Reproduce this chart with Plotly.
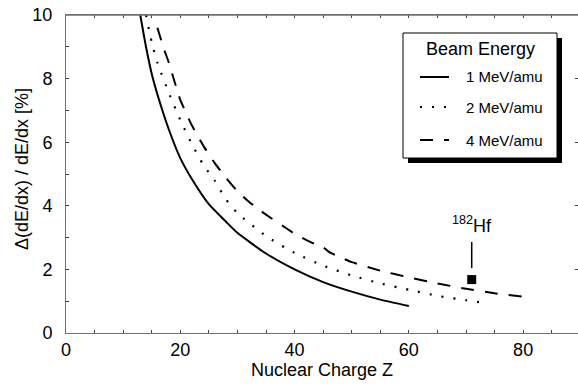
import plotly.graph_objects as go

# ---- data ----
z_1mev = [13, 14, 15, 16, 18, 20, 22, 25, 28, 30, 35, 40, 45, 50, 55, 60]
v_1mev = [10, 9.0, 8.15, 7.5, 6.4, 5.5, 4.85, 4.05, 3.5, 3.15, 2.5, 2.0, 1.6, 1.3, 1.05, 0.85]

z_2mev = [14, 15, 16, 18, 20, 22, 24, 26, 28, 30, 35, 40, 45, 50, 55, 60, 65, 70, 73]
v_2mev = [10, 9.15, 8.5, 7.55, 6.7, 5.95, 5.3, 4.8, 4.2, 3.77, 3.05, 2.52, 2.12, 1.81, 1.56, 1.36, 1.17, 1.03, 0.95]

z_4mev = [16, 17, 18, 19, 20, 22, 24, 26, 28, 30, 32, 34, 36, 38, 40, 42, 44, 45, 46, 48, 50,
          55, 60, 65, 70, 75, 80, 81.5]
v_4mev = [9.6, 9.0, 8.5, 7.9, 7.33, 6.54, 5.9, 5.35, 4.88, 4.46, 4.13, 3.85, 3.6, 3.36, 3.12, 2.93,
          2.76, 2.7, 2.55, 2.38, 2.23, 1.96, 1.75, 1.56, 1.39, 1.25, 1.14, 1.09]

hf_z = [71]
hf_v = [1.68]

series_names = ["1 MeV/amu", "2 MeV/amu", "4 MeV/amu"]
legend_title = "Beam Energy"

x_tickvals = list(range(0, 90, 5))
x_ticktext = [str(v) if v % 20 == 0 else " " for v in x_tickvals]

FONT = "Liberation Sans, Arial, sans-serif"
DOT = "2px,10px"
DASH = "13px,11px"
AXC = "#707070"
TKC = "#404040"

W, H = 578, 391
L, T, B = 66, 15, 58
PW = W - L
PH = H - T - B
X_RANGE = [0, 89.6]
Y_RANGE = [0, 10]


def px(xs):
    return (xs - L) / PW


def py(ys):
    return (H - B - ys) / PH


fig = go.Figure()
fig.add_trace(go.Scatter(x=z_1mev, y=v_1mev, mode="lines", name=series_names[0],
                         line=dict(color="black", width=2, shape="spline", smoothing=0.6)))
fig.add_trace(go.Scatter(x=z_2mev, y=v_2mev, mode="lines", name=series_names[1],
                         line=dict(color="black", width=2.2, dash=DOT, shape="spline", smoothing=0.6)))
fig.add_trace(go.Scatter(x=z_4mev, y=v_4mev, mode="lines", name=series_names[2],
                         line=dict(color="black", width=2, dash=DASH, shape="spline", smoothing=0.4)))
# Hf point on the secondary (identical-range) y axis so its right-side ticks get drawn
fig.add_trace(go.Scatter(x=hf_z, y=hf_v, mode="markers", name="182Hf", xaxis="x", yaxis="y2",
                         marker=dict(symbol="square", size=9, color="black"), showlegend=False))

# top frame line of the plot area
fig.add_shape(type="line", xref="paper", yref="paper", x0=0, x1=1, y0=1, y1=1,
              line=dict(color=AXC, width=1.5), layer="above")

# Hf annotation line and label
fig.add_shape(type="line", xref="x", yref="y", x0=hf_z[0], x1=hf_z[0], y0=2.04, y1=2.86,
              line=dict(color="black", width=1.5))
fig.add_annotation(x=hf_z[0], y=3.0, xref="x", yref="y", text="<sup>182</sup>Hf",
                   showarrow=False, xanchor="center", yanchor="bottom",
                   font=dict(family=FONT, size=18, color="black"))

# ---- legend box (drawn manually) ----
fig.add_shape(type="rect", xref="paper", yref="paper", x0=px(408), x1=px(562), y0=py(163), y1=py(38),
              fillcolor="black", line=dict(width=0), layer="above")
fig.add_shape(type="rect", xref="paper", yref="paper", x0=px(403), x1=px(557), y0=py(158), y1=py(33),
              fillcolor="white", line=dict(color="black", width=1), layer="above")
fig.add_annotation(xref="paper", yref="paper", x=px(480), y=py(49), text=legend_title, showarrow=False,
                   xanchor="center", yanchor="middle", font=dict(family=FONT, size=18, color="black"))
rows = [77, 107, 140]
dashes = ["solid", DOT, DASH]
for name, yy, d in zip(series_names, rows, dashes):
    fig.add_shape(type="line", xref="paper", yref="paper", x0=px(420), x1=px(449), y0=py(yy), y1=py(yy),
                  line=dict(color="black", width=2, dash=d), layer="above")
    fig.add_annotation(xref="paper", yref="paper", x=px(464), y=py(yy), text=name, showarrow=False,
                       xanchor="left", yanchor="middle", font=dict(family=FONT, size=15, color="black"))

# y-axis title (placed as annotation to match the reference position)
fig.add_annotation(xref="paper", yref="paper", x=px(22), y=py(169), text="Δ(dE/dx) / dE/dx [%]",
                   textangle=-90, showarrow=False, xanchor="center", yanchor="middle",
                   font=dict(family=FONT, size=18, color="black"))

axis_common = dict(showline=True, linecolor=AXC, linewidth=1, ticks="inside", ticklen=3,
                   tickcolor=TKC, tickwidth=1, showgrid=False, zeroline=False,
                   ticklabeloverflow="allow",
                   tickfont=dict(family=FONT, size=18, color="black"))

fig.update_layout(
    width=W, height=H,
    margin=dict(l=L, r=0, t=T, b=B, autoexpand=False),
    paper_bgcolor="white", plot_bgcolor="white",
    showlegend=False,
    font=dict(family=FONT, color="black"),
    xaxis=dict(range=X_RANGE, tickmode="array", tickvals=x_tickvals, ticktext=x_ticktext,
               mirror="ticks", ticklabelstandoff=0,
               title=dict(text="Nuclear Charge Z", font=dict(family=FONT, size=18), standoff=2),
               **axis_common),
    yaxis=dict(range=Y_RANGE, tick0=0, dtick=2, ticklabelstandoff=9,
               minor=dict(dtick=1, ticks="inside", ticklen=3, tickcolor=TKC, showgrid=False),
               **axis_common),
    # right side: ticks only, no frame line
    yaxis2=dict(range=Y_RANGE, overlaying="y", side="right", anchor="x", showline=False, ticks="inside",
                ticklen=3, tickcolor=TKC, tick0=0, dtick=2, showticklabels=False,
                showgrid=False, zeroline=False),
)

fig.write_html("out.html", config={"displayModeBar": False},
               post_script="document.body.style.margin='0px';document.body.style.overflow='hidden';")
